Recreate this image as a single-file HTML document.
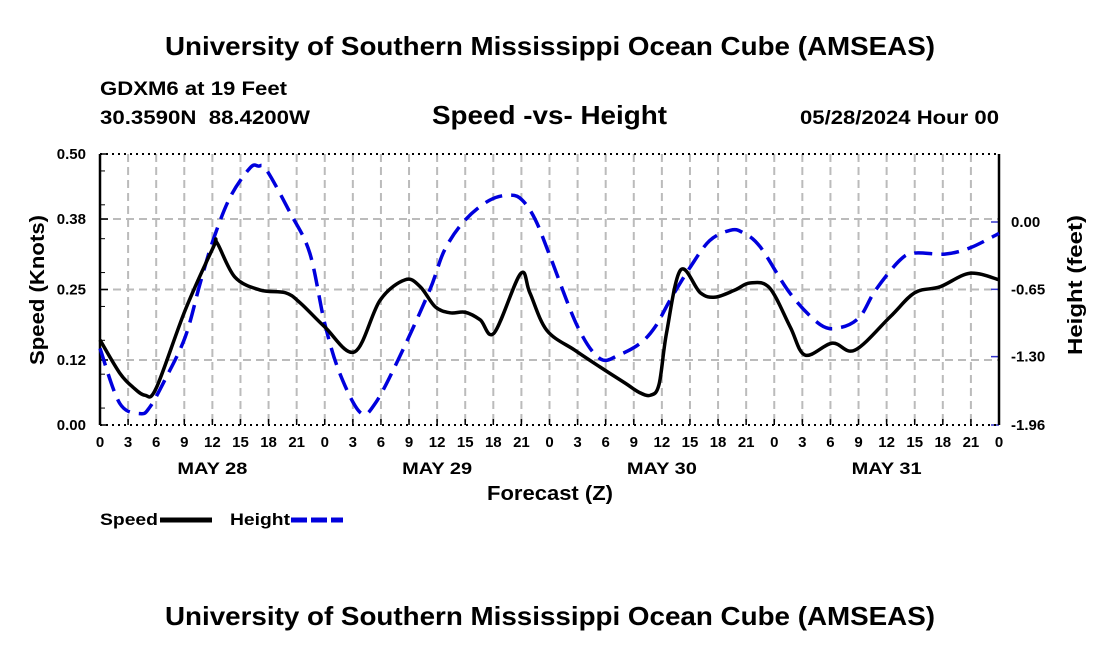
<!DOCTYPE html>
<html><head><meta charset="utf-8"><style>
body{margin:0;background:#fff;width:1100px;height:650px;overflow:hidden;font-family:"Liberation Sans",sans-serif}
</style></head><body>
<svg width="1100" height="650" font-family="Liberation Sans, sans-serif" font-weight="bold">
<text x="165" y="55" font-size="26" textLength="770" lengthAdjust="spacingAndGlyphs">University of Southern Mississippi Ocean Cube (AMSEAS)</text>
<text x="100" y="95" font-size="19" textLength="187" lengthAdjust="spacingAndGlyphs">GDXM6 at 19 Feet</text>
<text x="100" y="124" font-size="19" textLength="210" lengthAdjust="spacingAndGlyphs" xml:space="preserve">30.3590N  88.4200W</text>
<text x="432" y="124" font-size="26" textLength="235" lengthAdjust="spacingAndGlyphs">Speed -vs- Height</text>
<text x="800" y="124" font-size="19" textLength="199" lengthAdjust="spacingAndGlyphs">05/28/2024 Hour 00</text>
<g id="grid"></g>
<g id="axes"></g>
<path id="hgt" fill="none" stroke="#0000dd" stroke-width="3.5" stroke-dasharray="18,9"/>
<path id="spd" fill="none" stroke="#000" stroke-width="3.5"/>
<text x="44" y="290" transform="rotate(-90 44 290)" text-anchor="middle" font-size="20" textLength="150" lengthAdjust="spacingAndGlyphs">Speed (Knots)</text>
<text x="1082" y="285" transform="rotate(-90 1082 285)" text-anchor="middle" font-size="20" textLength="140" lengthAdjust="spacingAndGlyphs">Height (feet)</text>
<text x="487" y="500" font-size="20" textLength="126" lengthAdjust="spacingAndGlyphs">Forecast (Z)</text>
<g>
<text x="100" y="525" font-size="17" textLength="58" lengthAdjust="spacingAndGlyphs">Speed</text>
<line x1="160" y1="520" x2="212" y2="520" stroke="#000" stroke-width="5"/>
<text x="230" y="525" font-size="17" textLength="60" lengthAdjust="spacingAndGlyphs">Height</text>
<line x1="291" y1="520" x2="343" y2="520" stroke="#0000dd" stroke-width="5" stroke-dasharray="16,4"/>
</g>
<text x="165" y="625" font-size="26" textLength="770" lengthAdjust="spacingAndGlyphs">University of Southern Mississippi Ocean Cube (AMSEAS)</text>
</svg>
<script>
const speedHours=[0,2.1,3.5,4.8,6,9.1,12.1,12.5,14.4,17.1,19.8,21.4,24,27.2,29.9,32.6,34.2,35.8,37.4,39,40.6,42.1,44.9,45.9,47.7,50.7,53.4,56.1,57.6,58.8,59.7,60.5,62,64.1,65.7,67.8,69.4,71.5,73.7,75.3,78.2,80.6,84.4,87,89.7,92.9,96];
const speedValues=[0.157,0.096,0.07,0.055,0.068,0.212,0.328,0.336,0.273,0.249,0.244,0.225,0.181,0.135,0.23,0.268,0.255,0.218,0.207,0.208,0.194,0.17,0.279,0.244,0.175,0.138,0.107,0.077,0.06,0.055,0.075,0.17,0.286,0.244,0.236,0.249,0.262,0.253,0.181,0.129,0.151,0.138,0.2,0.244,0.255,0.28,0.268];
const heightHours=[0,2.1,4.3,5.3,6.9,9.1,10.7,12.1,13.9,16,16.9,17.8,20.3,22.4,24,25.6,27.8,29.4,32,35.2,36.8,39,41.6,43.8,45.1,46.5,48.1,51,53.4,55.5,57.7,59.3,60.9,63,65.1,67.3,68.6,70.5,73.7,76.9,79,81.1,82.8,85.4,87,90.2,92.9,96];
const heightValues=[-1.22,-1.75,-1.85,-1.79,-1.53,-1.11,-0.59,-0.17,0.24,0.52,0.54,0.5,0.09,-0.3,-0.98,-1.46,-1.84,-1.75,-1.3,-0.66,-0.27,0.02,0.21,0.26,0.21,0.02,-0.34,-1.01,-1.32,-1.28,-1.17,-1.01,-0.75,-0.44,-0.18,-0.08,-0.1,-0.24,-0.69,-0.99,-1.02,-0.92,-0.66,-0.37,-0.3,-0.31,-0.25,-0.11];
const speedTicks=["0.00","0.12","0.25","0.38","0.50"];
const heightTicks=["-1.96","-1.30","-0.65","0.00"];
const dayLabels=["MAY 28","MAY 29","MAY 30","MAY 31"];
const L=100,R=999,T=154,B=425;
const xs=h=>L+(R-L)*h/96;
const ys=v=>B-(B-T)*v/0.5;
const yh=v=>222-v*(203/1.96);
const NS="http://www.w3.org/2000/svg";
function mk(tag,at,parent,txt){const e=document.createElementNS(NS,tag);for(const k in at)e.setAttribute(k,at[k]);if(txt!==undefined)e.textContent=txt;parent.appendChild(e);return e;}
const grid=document.getElementById('grid'),axes=document.getElementById('axes');
for(let i=1;i<32;i++){const x=xs(i*3);const g=mk('line',{x1:x,y1:T,x2:x,y2:B,stroke:'#bbb','stroke-width':2,'stroke-dasharray':'8,5'},grid);

}
speedTicks.forEach((t,i)=>{const y=ys(parseFloat(t));if(i>0&&i<4){const g=mk('line',{x1:L,y1:y,x2:R,y2:y,stroke:'#bbb','stroke-width':2,'stroke-dasharray':'8,5'},grid);

}
const tx=mk('text',{x:L-14,y:y+5,'text-anchor':'end','font-size':15},axes,t);


mk('line',{x1:L,y1:y,x2:L+8,y2:y,stroke:'#000','stroke-width':1.5},axes);});
for(let i=0;i<8;i++){const y=ys(0.0625*i+0.03125);mk('line',{x1:L,y1:y,x2:L+5,y2:y,stroke:'#000','stroke-width':1},axes);}
heightTicks.forEach(t=>{const y=yh(parseFloat(t));const tx=mk('text',{x:R+12,y:y+5,'font-size':15},axes,t);


mk('line',{x1:R-8,y1:y,x2:R,y2:y,stroke:'#3333cc','stroke-width':1.5},axes);});
for(let i=0;i<=32;i++){const x=xs(i*3);const tx=mk('text',{x:x,y:B+22,'text-anchor':'middle','font-size':15},axes,String((i*3)%24));


mk('line',{x1:x,y1:B,x2:x,y2:B-6,stroke:'#000','stroke-width':1.5},axes);}
dayLabels.forEach((d,i)=>{const tx=mk('text',{x:xs(i*24+12),y:B+49,'text-anchor':'middle','font-size':17,textLength:70,lengthAdjust:'spacingAndGlyphs'},axes,d);

});
mk('line',{x1:L,y1:T,x2:R,y2:T,stroke:'#000','stroke-width':2,'stroke-dasharray':'2,4'},axes);
mk('line',{x1:L,y1:B,x2:R,y2:B,stroke:'#000','stroke-width':2,'stroke-dasharray':'2,4'},axes);
mk('line',{x1:L,y1:T,x2:L,y2:B,stroke:'#000','stroke-width':2.5},axes);
mk('line',{x1:R,y1:T,x2:R,y2:B,stroke:'#000','stroke-width':2.5},axes);
function smooth(p){let d=`M${p[0][0]},${p[0][1]}`;for(let i=0;i<p.length-1;i++){const p0=p[i-1]||p[i],p1=p[i],p2=p[i+1],p3=p[i+2]||p2;
d+=` C${p1[0]+(p2[0]-p0[0])/6},${p1[1]+(p2[1]-p0[1])/6} ${p2[0]-(p3[0]-p1[0])/6},${p2[1]-(p3[1]-p1[1])/6} ${p2[0]},${p2[1]}`;}return d;}
document.getElementById('spd').setAttribute('d',smooth(speedHours.map((h,i)=>[xs(h),ys(speedValues[i])])));
document.getElementById('hgt').setAttribute('d',smooth(heightHours.map((h,i)=>[xs(h),yh(heightValues[i])])));
</script>
</body></html>
